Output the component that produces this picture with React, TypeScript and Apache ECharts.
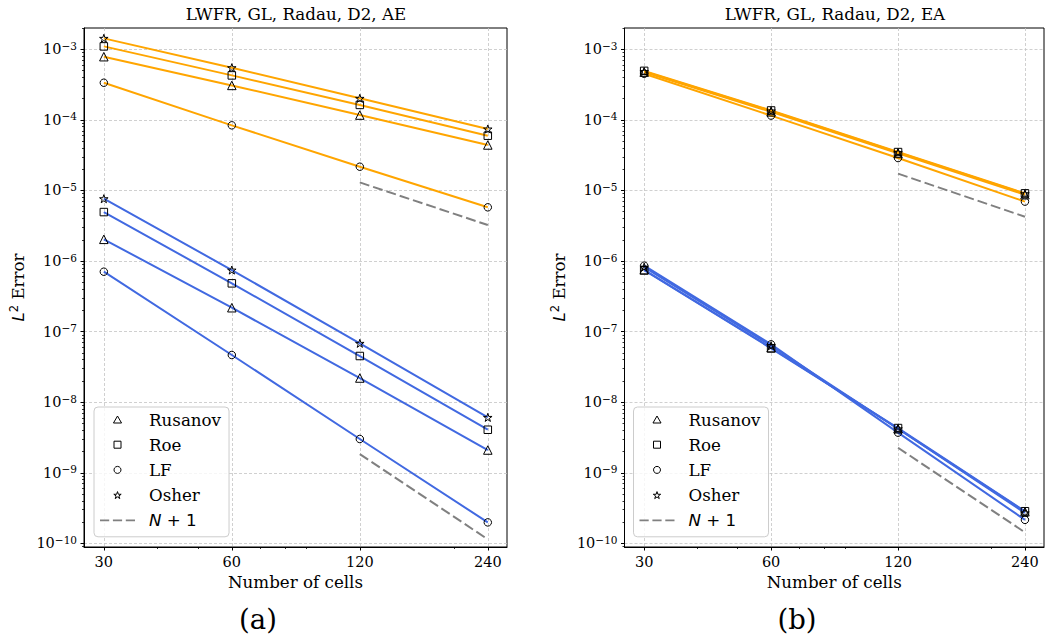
import React, { useEffect, useRef } from 'react';
import * as echarts from 'echarts';

// ---------- data ----------
const cells = [30, 60, 120, 240];
const refCells = [120, 240];
const xTickLabels = ['30', '60', '120', '240'];
const xMinorCells = [40, 50, 70, 80, 90, 200];
const yDecades = [-10, -9, -8, -7, -6, -5, -4, -3];
const schemes = ['Rusanov', 'Roe', 'LF', 'Osher'];
const refName = 'N + 1';

// (a) LWFR, GL, Radau, D2, AE
const aeHighRusanov = [7.86e-4, 3.08e-4, 1.17e-4, 4.41e-5];
const aeHighRoe = [1.10e-3, 4.27e-4, 1.63e-4, 5.97e-5];
const aeHighLF = [3.36e-4, 8.37e-5, 2.17e-5, 5.77e-6];
const aeHighOsher = [1.43e-3, 5.49e-4, 2.02e-4, 7.43e-5];
const aeLowRusanov = [2.03e-6, 2.18e-7, 2.20e-8, 2.10e-9];
const aeLowRoe = [4.94e-6, 4.83e-7, 4.51e-8, 4.07e-9];
const aeLowLF = [7.06e-7, 4.66e-8, 3.01e-9, 1.98e-10];
const aeLowOsher = [7.64e-6, 7.45e-7, 6.82e-8, 6.09e-9];
const aeRefHigh = [1.30e-5, 3.24e-6];
const aeRefLow = [1.84e-9, 1.14e-10];

// (b) LWFR, GL, Radau, D2, EA
const eaHighRusanov = [4.75e-4, 1.30e-4, 3.35e-5, 8.7e-6];
const eaHighRoe = [4.95e-4, 1.36e-4, 3.5e-5, 9.1e-6];
const eaHighLF = [4.5e-4, 1.15e-4, 2.88e-5, 6.95e-6];
const eaHighOsher = [4.85e-4, 1.34e-4, 3.45e-5, 9.0e-6];
const eaLowRusanov = [7.5e-7, 5.9e-8, 4.2e-9, 2.8e-10];
const eaLowRoe = [7.4e-7, 5.8e-8, 4.3e-9, 2.85e-10];
const eaLowLF = [8.6e-7, 6.6e-8, 3.7e-9, 2.15e-10];
const eaLowOsher = [8.2e-7, 6.3e-8, 4.2e-9, 2.7e-10];
const eaRefHigh = [1.73e-5, 4.25e-6];
const eaRefLow = [2.26e-9, 1.43e-10];

const titles = ['LWFR, GL, Radau, D2, AE', 'LWFR, GL, Radau, D2, EA'];
const captions = ['(a)', '(b)'];

// ---------- style ----------
const ORANGE = '#ffa500';
const BLUE = '#4169e1';
const GRAY = '#808080';
const SERIF = 'DejaVu Serif';
const SANS = 'DejaVu Sans';
const FS = 16.7; // labels, titles, legend
const TFS = 14.5; // tick labels
const STAR =
  'path://M100,0L122.45,69.1L195.1,69.1L136.3,111.8L158.8,180.9L100,138.2L41.2,180.9L63.7,111.8L4.9,69.1L77.55,69.1Z';
const TRI = 'path://M50,0L100,86.6L0,86.6Z';
const SQUARE = 'path://M0,0H100V100H0Z';
const DASH = 'path://M0,0H10V2H0Z M14,0H24V2H14Z M28,0H38V2H28Z';
const symbols = ['triangle', 'rect', 'circle', STAR];
const symbolSizes = [8.5, 7.5, 7.5, 8.5];

const X_MIN = -0.155;
const X_MAX = 3.15;
const Y_MIN = -10.052;
const Y_MAX = -2.698;

const grids = [
  { left: 84, top: 28, width: 423, height: 519 },
  { left: 624.5, top: 28, width: 419.5, height: 519 },
];
const titleX = [296, 835];
const captionX = [258, 797];
const legendX = [94, 633.5];

const u = (n: number) => Math.log2(n / 30);
const yMinor: number[] = [];
for (let d = -11; d <= -3; d++) {
  for (let k = 2; k <= 9; k++) {
    const v = d + Math.log10(k);
    if (v > Y_MIN && v < Y_MAX) yMinor.push(v);
  }
}
const xMinor = xMinorCells.map(u);

function lineSeries(name: string, values: number[], color: string, g: number, idx: number) {
  return {
    type: 'line',
    name,
    xAxisIndex: 2 * g,
    yAxisIndex: 2 * g,
    data: cells.map((n, i) => [u(n), Math.log10(values[i])]),
    symbol: symbols[idx],
    symbolSize: symbolSizes[idx],
    symbolKeepAspect: true,
    showSymbol: true,
    lineStyle: { color, width: 2 },
    itemStyle: { color: 'rgba(0,0,0,0)', borderColor: '#000', borderWidth: 1 },
    emphasis: { disabled: true },
    z: 3,
  };
}

function refSeries(values: number[], g: number) {
  return {
    type: 'line',
    name: refName,
    xAxisIndex: 2 * g,
    yAxisIndex: 2 * g,
    data: refCells.map((n, i) => [u(n), Math.log10(values[i])]),
    symbol: 'none',
    lineStyle: { color: GRAY, width: 2, type: [10, 4] },
    emphasis: { disabled: true },
    z: 2,
  };
}

function buildOption() {
  const series: any[] = [];
  const high = [
    [aeHighRusanov, aeHighRoe, aeHighLF, aeHighOsher],
    [eaHighRusanov, eaHighRoe, eaHighLF, eaHighOsher],
  ];
  const low = [
    [aeLowRusanov, aeLowRoe, aeLowLF, aeLowOsher],
    [eaLowRusanov, eaLowRoe, eaLowLF, eaLowOsher],
  ];
  const refs = [
    [aeRefHigh, aeRefLow],
    [eaRefHigh, eaRefLow],
  ];
  for (let g = 0; g < 2; g++) {
    schemes.forEach((s, i) => series.push(lineSeries(s, high[g][i], ORANGE, g, i)));
    schemes.forEach((s, i) => series.push(lineSeries(s, low[g][i], BLUE, g, i)));
    series.push(refSeries(refs[g][0], g));
    series.push(refSeries(refs[g][1], g));
  }

  const xAxis: any[] = [];
  const yAxis: any[] = [];
  for (let g = 0; g < 2; g++) {
    xAxis.push({
      type: 'value',
      gridIndex: g,
      position: 'bottom',
      min: X_MIN,
      max: X_MAX,
      axisLine: { show: true, onZero: false, lineStyle: { color: '#000', width: 1 } },
      axisTick: { show: true, inside: false, length: 3.5, lineStyle: { color: '#000', width: 1 }, customValues: [0, 1, 2, 3] },
      axisLabel: {
        show: true,
        customValues: [0, 1, 2, 3],
        formatter: (v: number) => xTickLabels[Math.round(v)],
        fontFamily: SERIF,
        fontSize: TFS,
        color: '#000',
        margin: 7,
      },
      splitLine: { show: true, lineStyle: { color: '#c4c4c4', width: 0.8, type: [3, 2] } },
      name: 'Number of cells',
      nameLocation: 'middle',
      nameGap: 26,
      nameTextStyle: { fontFamily: SERIF, fontSize: FS, color: '#000' },
    });
    xAxis.push({
      type: 'value',
      gridIndex: g,
      position: 'bottom',
      min: X_MIN,
      max: X_MAX,
      axisLine: { show: false, onZero: false },
      axisTick: { show: true, inside: false, length: 2, lineStyle: { color: '#000', width: 0.8 }, customValues: xMinor },
      axisLabel: { show: false },
      splitLine: { show: false },
    });
    yAxis.push({
      type: 'value',
      gridIndex: g,
      position: 'left',
      min: Y_MIN,
      max: Y_MAX,
      axisLine: { show: true, onZero: false, lineStyle: { color: '#000', width: 1 } },
      axisTick: { show: true, inside: false, length: 3.5, lineStyle: { color: '#000', width: 1 }, customValues: yDecades },
      axisLabel: {
        show: true,
        customValues: yDecades,
        formatter: (v: number) => `{b|10}{s|\u2212${Math.round(-v)}}`,
        margin: 7,
        color: '#000',
        rich: {
          b: { fontFamily: SERIF, fontSize: TFS, lineHeight: 18, color: '#000' },
          s: { fontFamily: SERIF, fontSize: 10.5, lineHeight: 11, verticalAlign: 'top', color: '#000' },
        },
      },
      splitLine: { show: true, lineStyle: { color: '#c4c4c4', width: 0.8, type: [3, 2] } },
      name: '{i|L}{s|2}{t| Error}',
      nameLocation: 'middle',
      nameRotate: 90,
      nameGap: 56,
      nameTextStyle: {
        fontFamily: SERIF,
        fontSize: FS,
        color: '#000',
        rich: {
          i: { fontFamily: SANS, fontStyle: 'italic', fontSize: FS, lineHeight: 20, color: '#000' },
          s: { fontFamily: SANS, fontSize: 11.5, lineHeight: 12, verticalAlign: 'top', color: '#000' },
          t: { fontFamily: SERIF, fontSize: FS, color: '#000' },
        },
      },
    });
    yAxis.push({
      type: 'value',
      gridIndex: g,
      position: 'left',
      min: Y_MIN,
      max: Y_MAX,
      axisLine: { show: false, onZero: false },
      axisTick: { show: true, inside: false, length: 2, lineStyle: { color: '#000', width: 0.8 }, customValues: yMinor },
      axisLabel: { show: false },
      splitLine: { show: false },
    });
  }

  const markerStyle = { color: '#fff', borderColor: '#000', borderWidth: 1 };
  const legendData = [
    { name: 'Rusanov', icon: TRI, itemStyle: markerStyle },
    { name: 'Roe', icon: SQUARE, itemStyle: markerStyle },
    { name: 'LF', icon: 'circle', itemStyle: markerStyle },
    { name: 'Osher', icon: STAR, itemStyle: markerStyle },
    { name: refName, icon: DASH, itemStyle: { color: GRAY, borderWidth: 0 } },
  ];

  const legend = legendX.map((lx) => ({
    orient: 'vertical',
    left: lx,
    top: 407,
    itemWidth: 35,
    itemHeight: 7,
    itemGap: 8.2,
    symbolKeepAspect: true,
    padding: [4, 8, 8, 6],
    backgroundColor: 'rgba(255,255,255,0.8)',
    borderColor: '#cccccc',
    borderWidth: 1,
    borderRadius: 4,
    selectedMode: false,
    textStyle: {
      fontFamily: SERIF,
      fontSize: FS,
      color: '#000',
      padding: [0, 0, 0, 9],
      rich: {
        i: { fontFamily: SANS, fontStyle: 'italic', fontSize: FS, color: '#000' },
        n: { fontFamily: SANS, fontSize: FS, color: '#000' },
      },
    },
    formatter: (name: string) => (name === refName ? '{i|N}{n| + 1}' : name),
    data: legendData,
  }));

  const title: any[] = [];
  for (let g = 0; g < 2; g++) {
    title.push({
      text: titles[g],
      left: titleX[g],
      top: 5,
      padding: 0,
      textAlign: 'center',
      textStyle: { fontFamily: SERIF, fontSize: FS, fontWeight: 'normal', color: '#000' },
    });
    title.push({
      text: captions[g],
      left: captionX[g],
      top: 605,
      padding: 0,
      textAlign: 'center',
      textStyle: { fontFamily: SERIF, fontSize: 27.5, fontWeight: 'normal', color: '#000' },
    });
  }

  return {
    animation: false,
    backgroundColor: '#ffffff',
    title,
    legend,
    grid: grids.map((gr) => ({
      ...gr,
      show: true,
      borderColor: '#000',
      borderWidth: 1,
      backgroundColor: 'transparent',
      containLabel: false,
      outerBoundsMode: 'none',
    })),
    xAxis,
    yAxis,
    series,
  };
}

export default function App() {
  const ref = useRef<HTMLDivElement>(null);
  useEffect(() => {
    if (!ref.current) return;
    const chart = echarts.init(ref.current, undefined, { renderer: 'svg' });
    chart.setOption(buildOption() as any);
    return () => chart.dispose();
  }, []);
  return (
    <div
      ref={ref}
      style={{ position: 'fixed', left: 0, top: 0, width: 1047, height: 637, background: '#fff' }}
    />
  );
}
